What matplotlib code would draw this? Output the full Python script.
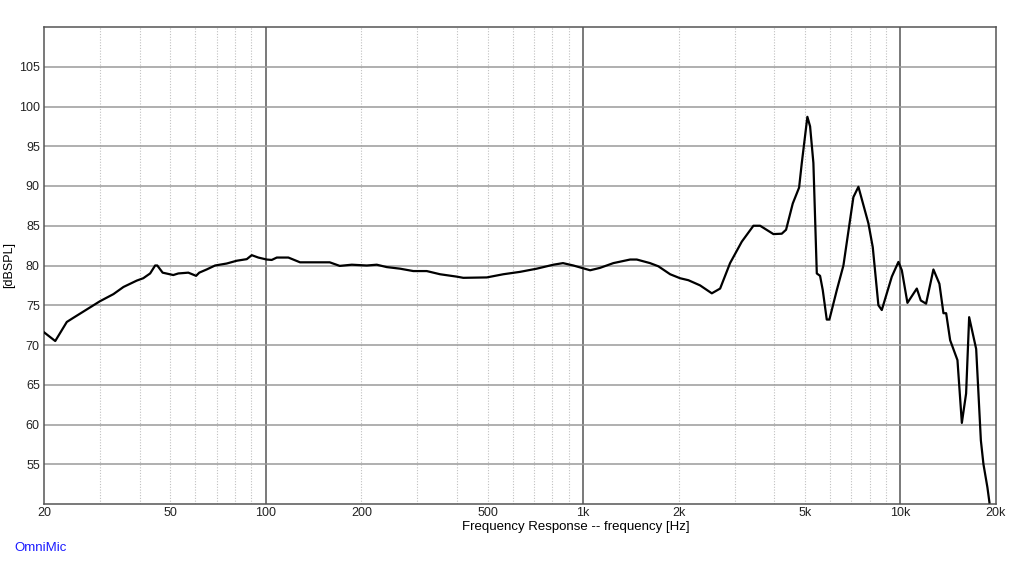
import numpy as np
import matplotlib
matplotlib.use("Agg")
import matplotlib.pyplot as plt
from matplotlib.ticker import FixedLocator, NullFormatter

plt.rcParams['font.family'] = ['Liberation Sans', 'DejaVu Sans']

# frequency response (Hz, dB SPL)
freq = [20, 21.7, 23.6, 24.7, 26.6, 30.0, 33.1, 35.6, 39.2, 41.1, 43.2, 44.8, 45.5,
        47.3, 51.1, 53.0, 57.0, 60.3, 61.7, 65.1, 69.2, 75.3, 81.0, 87.1, 90.3, 94.7,
        100.7, 104.4, 108.3, 117.8, 128.2, 159, 171, 186.6, 208, 223.7, 240.5, 264.9,
        291.6, 321.5, 354, 399.6, 419, 497, 560.4, 632.6, 714, 805.9, 864, 931.6,
        1052, 1130, 1245, 1406, 1476, 1625, 1726, 1880, 2020, 2146, 2336, 2544, 2702,
        2904, 3162, 3440, 3612, 3978, 4226, 4360, 4577, 4792, 4887, 5089, 5190, 5316,
        5449, 5580, 5690, 5857, 5970, 6300, 6610, 7106, 7370, 7924, 8179, 8520, 8732,
        9392, 9852, 10098, 10518, 11258, 11588, 12042, 12700, 13264, 13660, 13930,
        14340, 15120, 15610, 16100, 16460, 17320, 17920, 18260, 18790, 19070]
spl = [71.6, 70.5, 72.9, 73.4, 74.2, 75.5, 76.4, 77.3, 78.1, 78.4, 79.0, 80.0, 80.0,
       79.1, 78.8, 79.0, 79.1, 78.7, 79.1, 79.5, 80.0, 80.25, 80.6, 80.8, 81.3, 81.0,
       80.75, 80.7, 81.0, 81.0, 80.4, 80.4, 79.95, 80.1, 80.0, 80.1, 79.8, 79.6,
       79.3, 79.3, 78.9, 78.6, 78.45, 78.5, 78.9, 79.2, 79.6, 80.1, 80.3, 80.0,
       79.4, 79.7, 80.3, 80.75, 80.75, 80.3, 79.9, 78.9, 78.4, 78.15, 77.5, 76.5, 77.1,
       80.3, 83.0, 85.0, 85.0, 83.95, 84.0, 84.5, 87.8, 89.8, 92.9, 98.7, 97.5, 92.9,
       79.0, 78.7, 76.9, 73.2, 73.2, 76.9, 80.0, 88.6, 89.9, 85.3, 82.3, 75.0, 74.4,
       78.6, 80.45, 79.4, 75.3, 77.1, 75.6, 75.2, 79.5, 77.7, 74.0, 74.0,
       70.6, 68.1, 60.2, 63.9, 73.5, 69.5, 58.0, 55.0, 52.1, 50.2]

xticks = [20, 50, 100, 200, 500, 1000, 2000, 5000, 10000, 20000]
xticklabels = ['20', '50', '100', '200', '500', '1k', '2k', '5k', '10k', '20k']
yticks = [55, 60, 65, 70, 75, 80, 85, 90, 95, 100, 105]

fig = plt.figure(figsize=(10.24, 5.85), dpi=100)
ax = fig.add_axes([44/1024, 1-504/585, (996-44)/1024, (504-27)/585])

ax.set_xscale('log')
ax.set_xlim(20, 20000)
ax.set_ylim(50, 110)

# minor dotted grid
minors = []
for dec in [10, 100, 1000, 10000]:
    for m in range(2, 10):
        v = m*dec
        if 20 < v < 20000:
            minors.append(v)
for v in minors:
    ax.axvline(v, color='#c0c0c0', lw=0.8, ls=(0, (1, 1.5)), zorder=1)
for v in [100, 1000, 10000]:
    ax.axvline(v, color='#555555', lw=1.1, zorder=1)
for v in yticks:
    ax.axhline(v, color='#9a9a9a', lw=1.1, zorder=1)

ax.plot(freq, spl, color='black', lw=1.6, zorder=3)

ax.xaxis.set_major_locator(FixedLocator(xticks))
ax.xaxis.set_minor_formatter(NullFormatter())
ax.xaxis.set_minor_locator(FixedLocator([]))
ax.set_xticklabels(xticklabels)
ax.set_yticks(yticks)
ax.tick_params(axis='both', length=0, labelsize=9, colors='#222222')
ax.tick_params(axis='x', pad=2)
ax.tick_params(axis='y', pad=3)

for s in ax.spines.values():
    s.set_color('#555555')
    s.set_linewidth(1.1)

ax.set_xlabel('Frequency Response -- frequency [Hz]', fontsize=9.5)
ax.xaxis.set_label_coords((576-44)/952, -(521-504)/477, transform=ax.transAxes)
ax.set_ylabel('[dBSPL]', fontsize=9, labelpad=3)
fig.text(14/1024, 1-548/585, 'OmniMic', color='#1a1aff', fontsize=9.5, va='center', ha='left')

fig.savefig('out.png', dpi=100)
